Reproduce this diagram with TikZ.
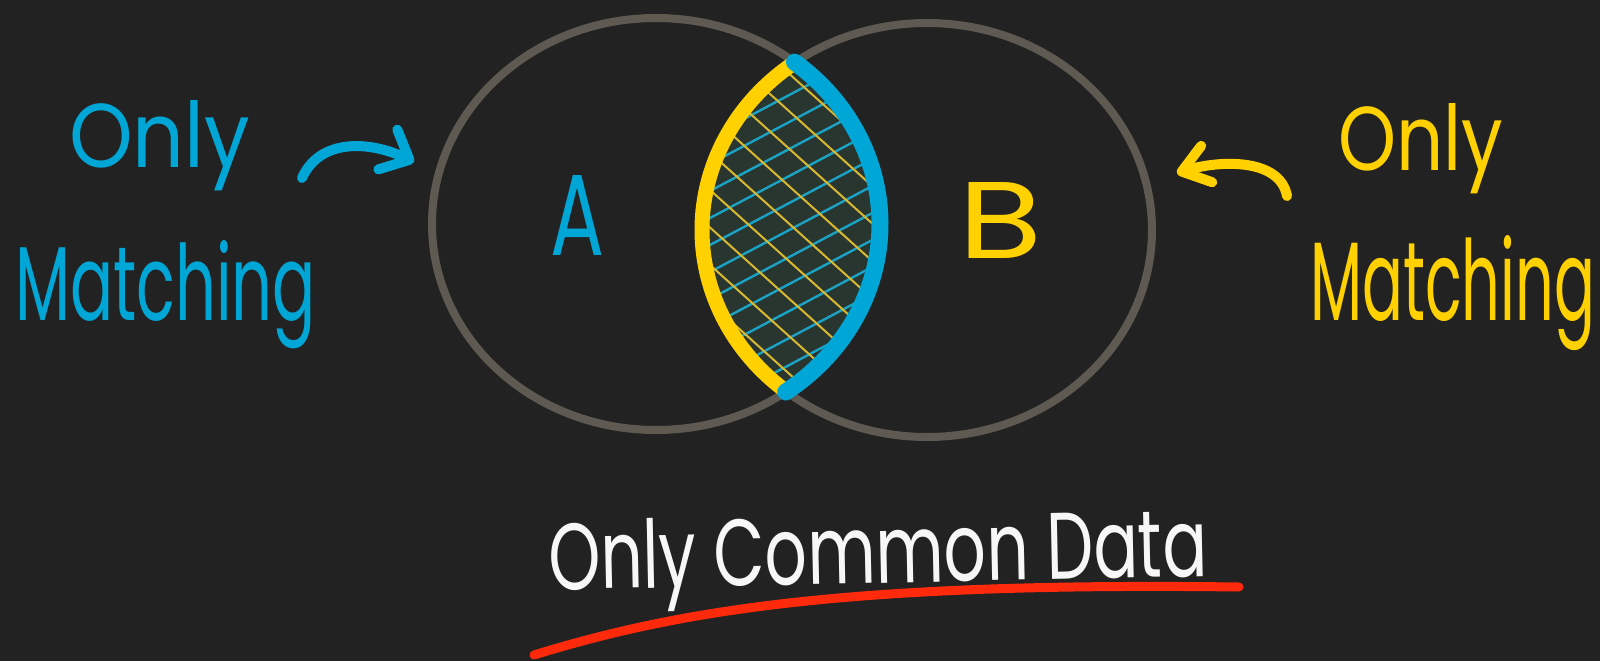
\documentclass[tikz,border=0pt]{standalone}
\usepackage{fontspec}
\setmainfont{Poppins}
\usepackage{graphicx}
\usetikzlibrary{arrows.meta}
\definecolor{bg}{HTML}{222222}
\definecolor{ring}{HTML}{5E5A52}
\definecolor{cyanA}{HTML}{00A6D6}
\definecolor{yelB}{HTML}{FFD100}
\definecolor{lensfill}{HTML}{29352F}
\definecolor{hatchC}{HTML}{1BA3C6}
\definecolor{hatchY}{HTML}{D8B830}
\definecolor{redline}{HTML}{FF2A0C}
\definecolor{chalk}{HTML}{F7F7F7}
\tikzset{
  ringline/.style={draw=ring, line width=8pt},
  hand/.style={inner sep=0pt, outer sep=0pt, anchor=base west},
  penarrow/.style={line width=10pt, line cap=round},
}
\begin{document}
\begin{tikzpicture}[x=1pt,y=-1pt]
\fill[bg] (0,0) rectangle (1600,661);
\useasboundingbox (0,0) rectangle (1600,661);

\coordinate (cA) at (656,224);
\coordinate (cB) at (927,230);

% circles
\draw[ringline] (cA) ellipse [x radius=224pt, y radius=206pt];
\draw[ringline] (cB) ellipse [x radius=225pt, y radius=207pt];

% lens
\begin{scope}
  \clip (cA) ellipse [x radius=224pt, y radius=206pt];
  \clip (cB) ellipse [x radius=225pt, y radius=207pt];
  \fill[lensfill] (650,40) rectangle (950,420);
  \foreach \k in {0,...,12}{
    \draw[hatchC, line width=2.4pt] (670,{93+27*\k+65.2}) -- (910,{93+27*\k-62});
  }
  \foreach \m in {-1,...,8}{
    \draw[hatchY, line width=2pt, line cap=round] (660,{50-55+37.5*\m}) -- (900,{50+216-55+37.5*\m});
  }
\end{scope}

% coloured arcs
\draw[yelB, line width=15pt, line cap=round] (cB) ++(126:225pt and 207pt)
  arc[start angle=126, end angle=231.5, x radius=225pt, y radius=207pt];
\draw[cyanA, line width=17pt, line cap=round] (cA) ++(51.8:224pt and 206pt)
  arc[start angle=51.8, end angle=-54.6, x radius=224pt, y radius=206pt];

% set letters
\node[hand, text=cyanA] (labA) at (550,255) {\resizebox{54pt}{80pt}{A}};
\node[hand, text=yelB] (labB) at (958,258) {\resizebox{84pt}{76pt}{B}};

% left labels and arrow
\node[hand, text=cyanA] (onlyL) at (69,167) {\resizebox{181pt}{67pt}{Only}};
\node[hand, text=cyanA] (matchL) at (15,320) {\resizebox{301pt}{80pt}{Matching}};
\coordinate (la0) at (302,178);
\coordinate (la1) at (414,162);
\draw[cyanA, penarrow, -{Straight Barb[length=24pt,width=44pt,round]}]
  (la0) .. controls (320,138) and (370,141) .. (la1);

% right labels and arrow
\node[hand, text=yelB] (onlyR) at (1338,170) {\resizebox{165pt}{67pt}{Only}};
\node[hand, text=yelB] (matchR) at (1310,320) {\resizebox{285pt}{85pt}{Matching}};
\coordinate (ra0) at (1287,196);
\coordinate (ra1) at (1177,173);
\draw[yelB, penarrow, -{Straight Barb[length=26pt,width=38pt,round]}]
  (ra0) .. controls (1280,158) and (1220,160) .. (ra1);

% bottom caption
\coordinate (u0) at (534,655);
\coordinate (u1) at (1239,587);
\draw[redline, line width=9pt, line cap=round] (u0) .. controls (680,610) and (850,582) .. (u1);
\node[hand, text=chalk, rotate=1.2] (caption) at (549,590) {\resizebox{659pt}{70pt}{Only Common Data}};
\end{tikzpicture}
\end{document}
